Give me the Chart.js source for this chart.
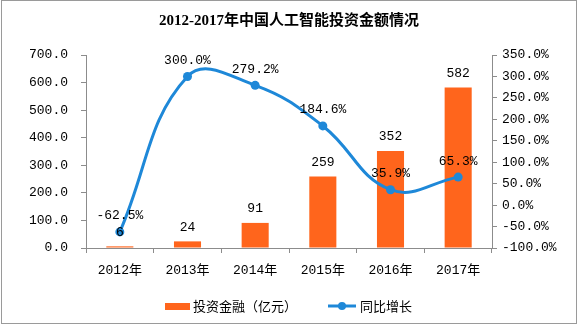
<!DOCTYPE html>
<html>
<head>
<meta charset="utf-8">
<script src="https://cdn.jsdelivr.net/npm/chart.js@4"></script>
<style>
  body { margin: 0; background: #fff; }
  canvas { display: block; }
</style>
</head>
<body>
<canvas id="aiInvestChart" width="578" height="328"></canvas>
<script>
    const years = ['2012年', '2013年', '2014年', '2015年', '2016年', '2017年'];
    const investment = [6, 24, 91, 259, 352, 582];          // 亿元
    const growth = [-62.5, 300.0, 279.2, 184.6, 35.9, 65.3]; // %

    const chartTitle = '2012-2017年中国人工智能投资金额情况';
    const numFont = "'Liberation Mono', 'Noto Sans CJK SC', monospace";

    // title, value labels, legend and the outer frame
    const decorPlugin = {
      id: 'decor',
      afterDatasetsDraw(chart) {
        const ctx = chart.ctx;
        ctx.save();
        ctx.textAlign = 'center';
        ctx.textBaseline = 'middle';
        ctx.fillStyle = '#000';
        ctx.font = '13px ' + numFont;

        chart.getDatasetMeta(0).data.forEach((bar, i) => {
          ctx.fillText(String(investment[i]), bar.x, bar.y - 14);
        });
        chart.getDatasetMeta(1).data.forEach((pt, i) => {
          ctx.fillText(growth[i].toFixed(1) + '%', pt.x, pt.y - 16);
        });
        ctx.restore();
      },
      afterDraw(chart) {
        const ctx = chart.ctx;
        ctx.save();

        // frame
        ctx.strokeStyle = '#9a9a9a';
        ctx.lineWidth = 1;
        ctx.strokeRect(1.5, 0.5, 575, 323);

        // title
        ctx.fillStyle = '#000';
        ctx.textAlign = 'center';
        ctx.textBaseline = 'middle';
        ctx.font = "bold 15px 'Liberation Serif', 'Noto Sans CJK SC', serif";
        ctx.fillText(chartTitle, 289, 21);

        // legend
        const ds = chart.data.datasets;
        const ly = 306;
        ctx.font = "13px 'Noto Sans CJK SC', sans-serif";
        ctx.textAlign = 'left';

        ctx.fillStyle = ds[0].backgroundColor;
        ctx.fillRect(165, ly - 3, 25, 7);
        ctx.fillStyle = '#000';
        ctx.fillText(ds[0].label, 193, ly);

        ctx.strokeStyle = ds[1].borderColor;
        ctx.lineWidth = 3;
        ctx.beginPath();
        ctx.moveTo(328, ly);
        ctx.lineTo(356, ly);
        ctx.stroke();
        ctx.fillStyle = ds[1].borderColor;
        ctx.beginPath();
        ctx.arc(342, ly, 4, 0, Math.PI * 2);
        ctx.fill();
        ctx.fillStyle = '#000';
        ctx.fillText(ds[1].label, 360, ly);

        ctx.restore();
      }
    };

    const ctx = document.getElementById('aiInvestChart').getContext('2d');
    const chart = new Chart(ctx, {
      type: 'bar',
      data: {
        labels: years,
        datasets: [
          {
            label: '投资金融（亿元）',
            data: investment,
            backgroundColor: '#ff651c',
            barPercentage: 0.4,
            categoryPercentage: 1,
            yAxisID: 'y',
            order: 2
          },
          {
            type: 'line',
            label: '同比增长',
            data: growth,
            borderColor: '#1e88d8',
            backgroundColor: '#1e88d8',
            borderWidth: 3,
            pointRadius: 4.5,
            pointHoverRadius: 4.5,
            pointBackgroundColor: '#1e88d8',
            pointBorderWidth: 0,
            tension: 0.42,
            yAxisID: 'y1',
            order: 1
          }
        ]
      },
      options: {
        responsive: false,
        animation: false,
        events: [],
        layout: {
          padding: { left: 26, right: 6, top: 55, bottom: 40 }
        },
        plugins: {
          legend: { display: false },
          tooltip: { enabled: false }
        },
        scales: {
          x: {
            afterFit: s => { s.height = 40; },
            border: { color: '#8c8c8c' },
            grid: { drawOnChartArea: false, tickLength: 5, color: '#8c8c8c' },
            ticks: {
              color: '#000',
              padding: 10,
              font: { family: numFont, size: 13 }
            }
          },
          y: {
            position: 'left',
            min: 0,
            max: 700,
            afterFit: s => { s.width = 60; },
            border: { color: '#8c8c8c' },
            grid: { drawOnChartArea: false, tickLength: 5, color: '#8c8c8c' },
            ticks: {
              stepSize: 100,
              color: '#000',
              padding: 13,
              font: { family: numFont, size: 13 },
              callback: v => v.toFixed(1)
            }
          },
          y1: {
            position: 'right',
            min: -100,
            max: 350,
            afterFit: s => { s.width = 80; },
            border: { color: '#8c8c8c' },
            grid: { drawOnChartArea: false, tickLength: 5, color: '#8c8c8c' },
            ticks: {
              stepSize: 50,
              color: '#000',
              padding: 5,
              font: { family: numFont, size: 13 },
              callback: v => v.toFixed(1) + '%'
            }
          }
        }
      },
      plugins: [decorPlugin]
    });
</script>
</body>
</html>
